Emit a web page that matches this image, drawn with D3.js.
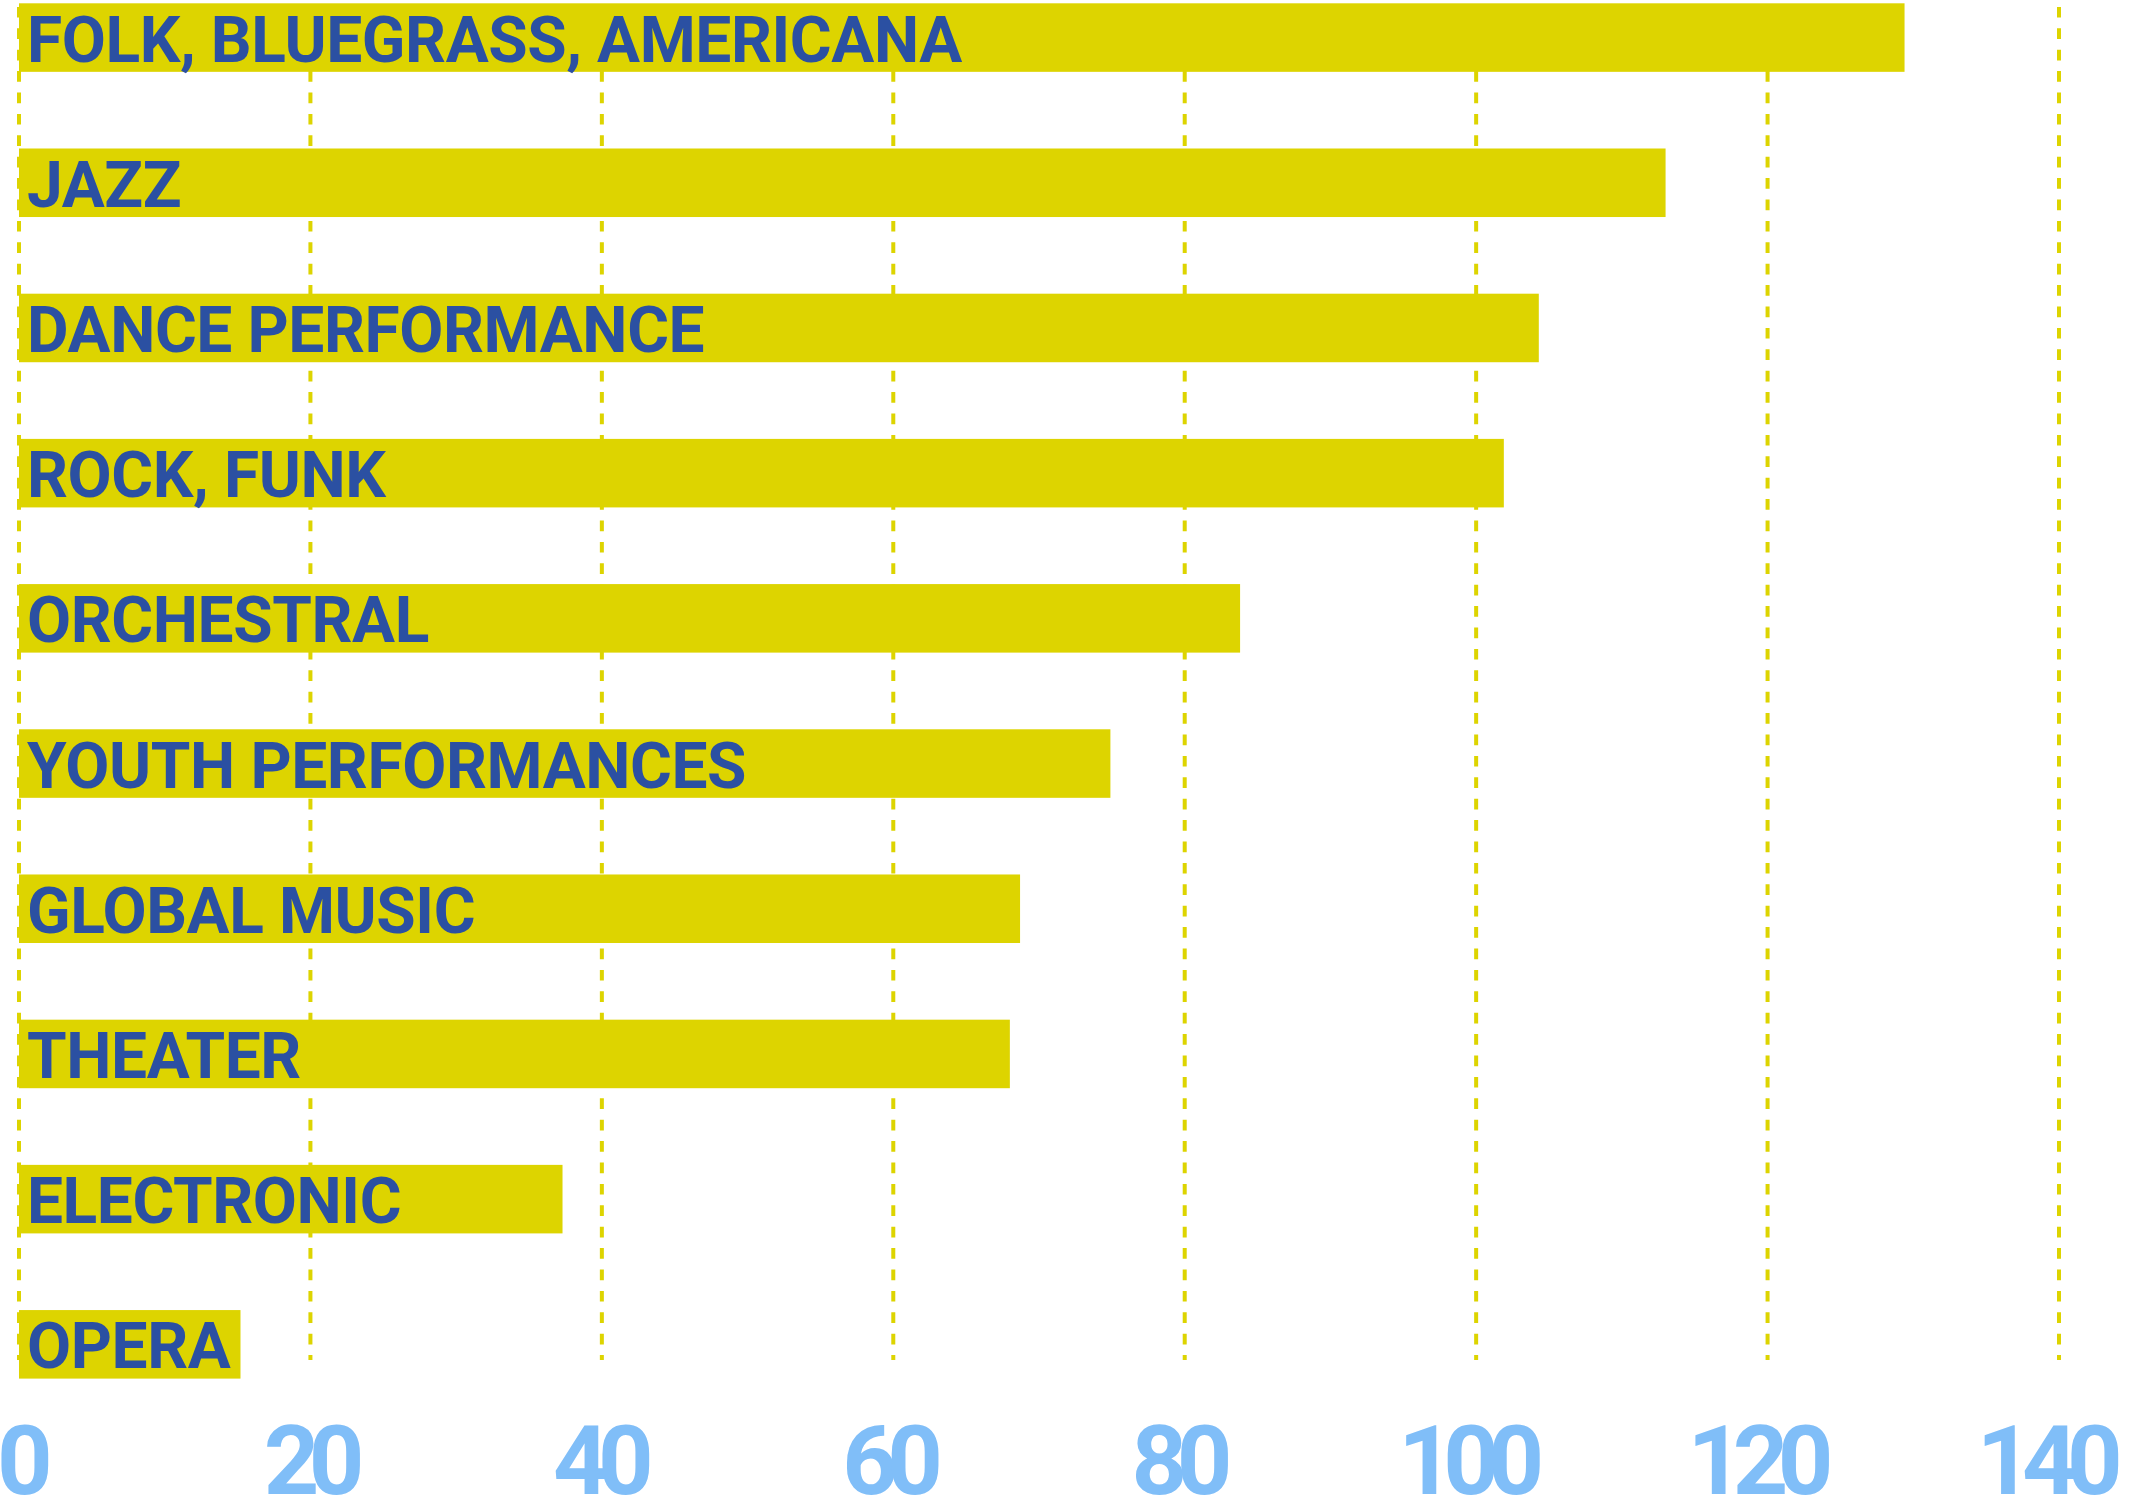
<!DOCTYPE html>
<html>
<head>
<meta charset="utf-8">
<script src="https://cdn.jsdelivr.net/npm/d3@7"></script>
<style>
  html, body { margin: 0; padding: 0; background: #ffffff; }
  svg { display: block; }
</style>
</head>
<body>
<svg id="chart" width="2129" height="1500"></svg>
<script>
const categories = [
  "FOLK, BLUEGRASS, AMERICANA",
  "JAZZ",
  "DANCE PERFORMANCE",
  "ROCK, FUNK",
  "ORCHESTRAL",
  "YOUTH PERFORMANCES",
  "GLOBAL MUSIC",
  "THEATER",
  "ELECTRONIC",
  "OPERA"
];
const values = [129.4, 113.0, 104.3, 101.9, 83.8, 74.9, 68.7, 68.0, 37.3, 15.2];
const tickValues = [0, 20, 40, 60, 80, 100, 120, 140];
const tickLabels = ["0", "20", "40", "60", "80", "100", "120", "140"];

const BAR_COLOR = "#DDD400";
const TEXT_COLOR = "#2B50A2";
const AXIS_COLOR = "#80BEF8";

const svg = d3.select("#chart");

const x = d3.scaleLinear().domain([0, 140]).range([19, 2059]);
const xLabel = d3.scaleLinear().domain([0, 140]).range([19, 2044]);
const y = d3.scaleBand().domain(categories).range([3.3, 1378.6]).paddingInner(0.528).paddingOuter(0);

// grid lines
svg.append("g").attr("class", "grid")
  .selectAll("line").data(tickValues).join("line")
  .attr("x1", d => x(d)).attr("x2", d => x(d))
  .attr("y1", 0).attr("y2", 1360)
  .attr("stroke", BAR_COLOR)
  .attr("stroke-width", 4)
  .attr("stroke-dasharray", "10.7,10.7")
  .attr("stroke-dashoffset", 14.5);

// bars
const rows = svg.append("g").attr("class", "bars")
  .selectAll("g").data(categories.map((c, i) => ({c, v: values[i]}))).join("g");

rows.append("rect")
  .attr("x", x(0))
  .attr("y", d => y(d.c))
  .attr("width", d => x(d.v) - x(0))
  .attr("height", y.bandwidth())
  .attr("fill", BAR_COLOR);

rows.append("text")
  .attr("x", x(0) + 8)
  .attr("y", d => y(d.c) + y.bandwidth() / 2 + 24)
  .attr("fill", TEXT_COLOR)
  .style("font-family", "Roboto, sans-serif")
  .style("font-weight", 700)
  .style("font-size", "64px")
  .style("letter-spacing", "-0.4px")
  .text(d => d.c);

// axis labels
const axis = d3.axisBottom(xLabel).tickValues(tickValues)
  .tickFormat((d, i) => tickLabels[i]).tickSize(0).tickPadding(0);
const gAxis = svg.append("g").attr("transform", "translate(0,1494)").call(axis);
gAxis.select(".domain").remove();
gAxis.selectAll("text")
  .attr("y", 0).attr("dy", 0)
  .attr("fill", AXIS_COLOR)
  .attr("text-anchor", "middle")
  .style("font-family", "Roboto, sans-serif")
  .style("font-weight", 700)
  .style("font-size", "97px")
  .style("letter-spacing", "-10.5px");
</script>
</body>
</html>
